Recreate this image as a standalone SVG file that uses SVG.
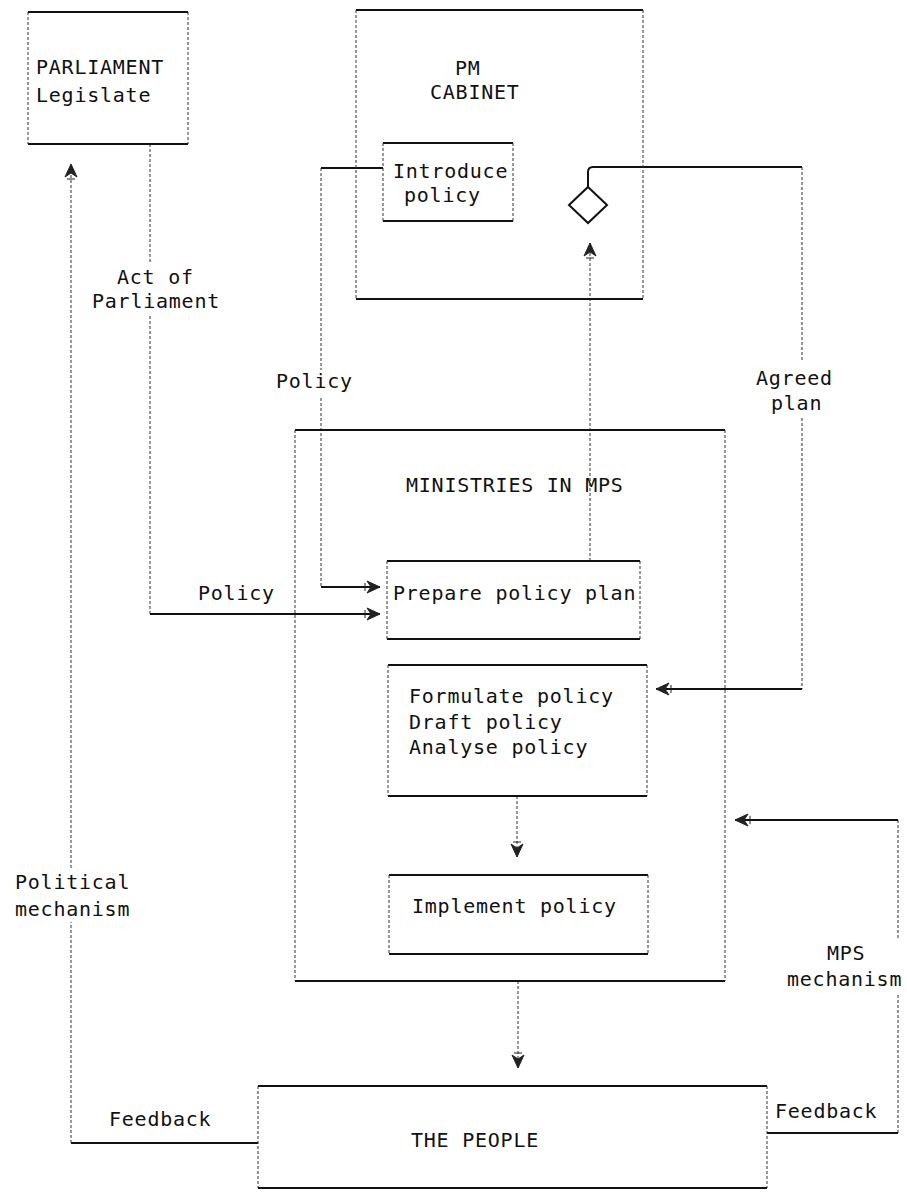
<svg xmlns="http://www.w3.org/2000/svg" width="907" height="1192" viewBox="0 0 907 1192">
<style>
.bg{fill:#fff}
.box{fill:#fff;stroke:none}
.h{fill:none;stroke:#111;stroke-width:2}
.v{fill:none;stroke:#333;stroke-width:1;stroke-dasharray:3 2}
.t{font-family:"DejaVu Sans Mono","Liberation Mono",monospace;font-size:20px;letter-spacing:0.76px;fill:#111}
.ah{fill:#222;stroke:#222;stroke-width:1;stroke-dasharray:none}
</style>
<defs>
<marker id="arr" viewBox="-16 -8 18 16" refX="0" refY="0" markerWidth="18" markerHeight="16" markerUnits="userSpaceOnUse" orient="auto">
<path class="ah" d="M0,0 L-13,-6 L-9,0 L-13,6 Z M-15,-4 V4"/>
</marker>
</defs>
<rect class="bg" x="0" y="0" width="907" height="1192"/>

<g id="connectors">
<path class="h" d="M258,1143 H71"/>
<path class="v" d="M71,1143 V922 M71,868 V164" marker-end="url(#arr)"/>
<path class="v" d="M150,144 V262 M150,316 V614"/>
<path class="h" d="M150,614 H380" marker-end="url(#arr)"/>
<path class="h" d="M383,168 H321"/>
<path class="v" d="M321,168 V370 M321,398 V587"/>
<path class="h" d="M321,587 H380" marker-end="url(#arr)"/>
<path class="v" d="M590,561 V243" marker-end="url(#arr)"/>
<path class="h" d="M588,187 V172 Q588,167 593,167 H802"/>
<path class="v" d="M802,167 V361 M802,418 V689"/>
<path class="h" d="M802,689 H656" marker-end="url(#arr)"/>
<path class="v" d="M517,796 V857" marker-end="url(#arr)"/>
<path class="v" d="M518,981 V1068" marker-end="url(#arr)"/>
<path class="h" d="M767,1133 H898"/>
<path class="v" d="M898,1133 V993 M898,938 V820"/>
<path class="h" d="M898,820 H735" marker-end="url(#arr)"/>
</g>

<g id="parliament">
<rect class="box" x="28" y="12" width="160" height="132"/>
<path class="h" d="M28,12 H188 M28,144 H188"/>
<path class="v" d="M28,12 V144 M188,12 V144"/>
<text class="t" x="36" y="74">PARLIAMENT</text>
<text class="t" x="36" y="102">Legislate</text>
</g>

<g id="pm-cabinet">
<path class="h" d="M356,10 H643 M356,299 H643"/>
<path class="v" d="M356,10 V299 M643,10 V299"/>
<text class="t" x="455" y="75">PM</text>
<text class="t" x="430" y="99">CABINET</text>
</g>

<g id="introduce-policy">
<rect class="box" x="383" y="143" width="130" height="78"/>
<path class="h" d="M383,143 H513 M383,221 H513"/>
<path class="v" d="M383,143 V221 M513,143 V221"/>
<text class="t" x="393" y="178">Introduce</text>
<text class="t" x="404" y="202">policy</text>
</g>

<g id="decision">
<path d="M588,187 L607,205 L588,223 L569,205 Z" fill="#fff" stroke="#111" stroke-width="2"/>
</g>

<g id="label-act">
<text class="t" x="117" y="284">Act of</text>
<text class="t" x="92" y="308">Parliament</text>
</g>
<g id="label-policy-upper">
<text class="t" x="276" y="388">Policy</text>
</g>
<g id="label-agreed">
<text class="t" x="756" y="385">Agreed</text>
<text class="t" x="771" y="410">plan</text>
</g>
<g id="label-policy-lower">
<text class="t" x="198" y="600">Policy</text>
</g>
<g id="label-political">
<text class="t" x="15" y="889">Political</text>
<text class="t" x="15" y="916">mechanism</text>
</g>
<g id="label-mps">
<text class="t" x="827" y="960">MPS</text>
<text class="t" x="787" y="986">mechanism</text>
</g>
<g id="label-feedback-left">
<text class="t" x="109" y="1126">Feedback</text>
</g>
<g id="label-feedback-right">
<text class="t" x="775" y="1118">Feedback</text>
</g>

<g id="ministries">
<path class="h" d="M295,430 H725 M295,981 H725"/>
<path class="v" d="M295,430 V981 M725,430 V981"/>
<text class="t" x="406" y="492">MINISTRIES IN MPS</text>
</g>

<g id="prepare-plan">
<rect class="box" x="387" y="561" width="253" height="78"/>
<path class="h" d="M387,561 H640 M387,639 H640"/>
<path class="v" d="M387,561 V639 M640,561 V639"/>
<text class="t" x="393" y="600">Prepare policy plan</text>
</g>

<g id="formulate">
<rect class="box" x="388" y="665" width="259" height="131"/>
<path class="h" d="M388,665 H647 M388,796 H647"/>
<path class="v" d="M388,665 V796 M647,665 V796"/>
<text class="t" x="409" y="703">Formulate policy</text>
<text class="t" x="409" y="729">Draft policy</text>
<text class="t" x="409" y="754">Analyse policy</text>
</g>

<g id="implement">
<rect class="box" x="389" y="875" width="259" height="79"/>
<path class="h" d="M389,875 H648 M389,954 H648"/>
<path class="v" d="M389,875 V954 M648,875 V954"/>
<text class="t" x="412" y="913">Implement policy</text>
</g>

<g id="people">
<rect class="box" x="258" y="1086" width="509" height="102"/>
<path class="h" d="M258,1086 H767 M258,1188 H767"/>
<path class="v" d="M258,1086 V1188 M767,1086 V1188"/>
<text class="t" x="411" y="1147">THE PEOPLE</text>
</g>
</svg>
